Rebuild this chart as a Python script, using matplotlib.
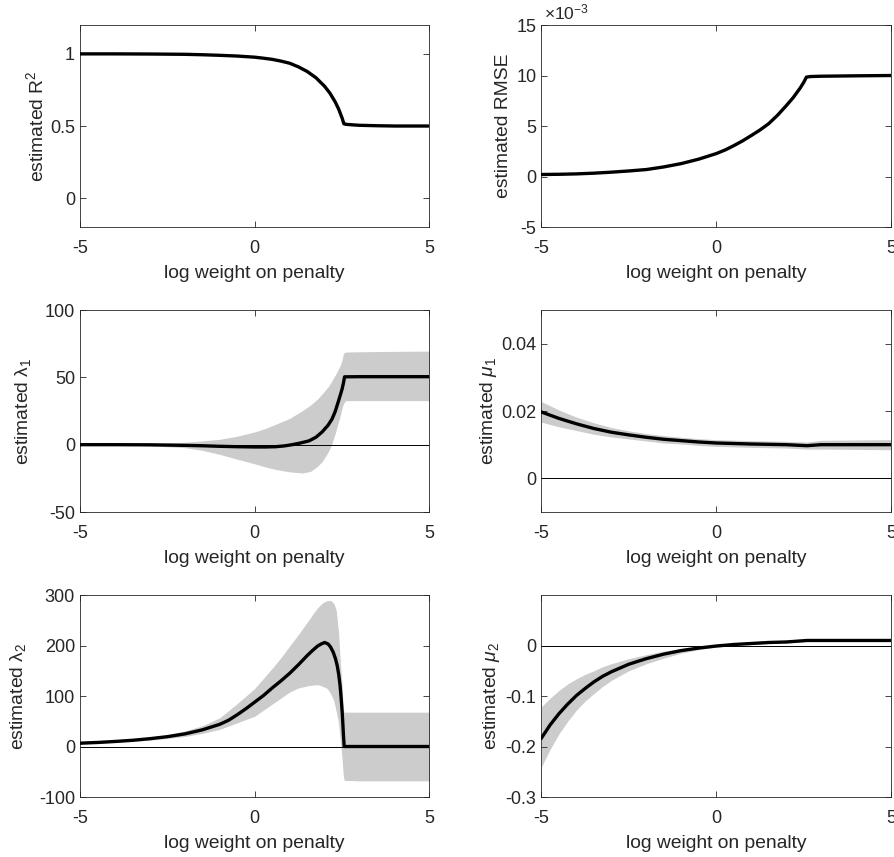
import matplotlib
matplotlib.use("Agg")
import matplotlib.pyplot as plt
from matplotlib.ticker import FuncFormatter

plt.rcParams['font.family'] = ['Liberation Sans', 'DejaVu Sans']
plt.rcParams['font.size'] = 13
plt.rcParams['axes.labelsize'] = 13.9
plt.rcParams['axes.unicode_minus'] = False
plt.rcParams['mathtext.fontset'] = 'custom'
plt.rcParams['mathtext.rm'] = 'Liberation Sans'
plt.rcParams['mathtext.it'] = 'Liberation Sans:italic'

# estimated R^2
x_r2 = [-5, -4, -3, -2, -1.5, -1, -0.5, 0, 0.25, 0.5, 0.75, 1, 1.25, 1.5, 1.75, 2.0, 2.15,
        2.3, 2.4, 2.5, 2.55, 2.6, 2.8, 3, 3.5, 4, 5]
r2 = [1.0, 1.0, 0.999, 0.997, 0.994, 0.99, 0.985, 0.977, 0.970, 0.962, 0.950, 0.935, 0.91,
      0.878, 0.835, 0.775, 0.728, 0.668, 0.618, 0.555, 0.516, 0.512, 0.508, 0.505, 0.502, 0.50, 0.50]

# estimated RMSE, in units of 1e-3
x_rmse = [-5, -4.5, -4, -3.5, -3, -2.5, -2, -1.5, -1, -0.5, 0, 0.25, 0.5, 0.75, 1, 1.25, 1.5,
          1.75, 2, 2.2, 2.4, 2.5, 2.58, 2.7, 3, 4, 5]
rmse = [0.2, 0.22, 0.26, 0.33, 0.43, 0.55, 0.69, 0.95, 1.28, 1.72, 2.27, 2.62, 3.05, 3.52,
        4.05, 4.6, 5.23, 6.05, 7.0, 7.8, 8.75, 9.3, 9.84, 9.9, 9.93, 9.97, 10.0]

# lambda_1 estimate and band
x_l1 = [-5, -4, -3, -2, -1.5, -1, -0.5, 0, 0.3, 0.6, 0.85, 1.07, 1.3, 1.55, 1.75, 1.93, 2.1,
        2.21, 2.3, 2.4, 2.45, 2.5, 2.54, 2.57, 3, 4, 5]
l1 = [0, 0, -0.1, -0.5, -0.8, -1.2, -1.5, -1.7, -1.7, -1.5, -0.9, 0.0, 1.2, 2.8, 5.5, 9.5,
      14.5, 19, 24.5, 32.7, 37, 41.4, 46, 50.4, 50.5, 50.5, 50.5]
x_l1_band = [-5, -4, -3, -2, -1.5, -1, -0.5, 0, 0.3, 0.6, 1.0, 1.36, 1.6, 1.8, 1.93, 2.1, 2.2,
             2.31, 2.45, 2.5, 2.54, 2.6, 3, 4, 5]
l1_hi = [0.1, 0.3, 0.8, 1.8, 2.8, 4.0, 6.3, 9.5, 12, 15.2, 19.5, 25.2, 29.5, 34, 37.7, 43, 47,
         52, 58.9, 63, 68, 68.8, 69.0, 69.3, 69.5]
l1_lo = [-0.1, -0.3, -0.9, -2.2, -4.2, -7.2, -10.8, -14.2, -16.5, -18.4, -20.2, -21, -19.8,
         -16, -12.5, -5.5, 0, 9, 22, 27.5, 30.5, 32.7, 32.7, 32.7, 32.7]

# mu_1 estimate and band
x_m1 = [-5, -4.5, -4, -3.5, -3, -2.5, -2, -1.5, -1, -0.5, 0, 1, 2, 2.6, 3, 4, 5]
m1 = [0.0197, 0.0178, 0.0162, 0.0148, 0.0137, 0.0129, 0.0122, 0.0116, 0.0112, 0.0108, 0.0105,
      0.0102, 0.0100, 0.0097, 0.0100, 0.0100, 0.0100]
m1_hi = [0.0228, 0.0203, 0.0182, 0.0165, 0.0151, 0.0141, 0.0133, 0.0127, 0.0122, 0.0118,
         0.0115, 0.0112, 0.0110, 0.0108, 0.0113, 0.0114, 0.0115]
m1_lo = [0.0167, 0.0153, 0.0142, 0.0131, 0.0123, 0.0117, 0.0111, 0.0105, 0.0102, 0.0098,
         0.0095, 0.0092, 0.0090, 0.0087, 0.0087, 0.0086, 0.0085]

# lambda_2 estimate and band
x_l2 = [-5, -4.5, -4, -3.5, -3, -2.5, -2, -1.5, -1, -0.75, -0.5, -0.25, 0, 0.25, 0.5, 0.75,
        1, 1.25, 1.5, 1.65, 1.8, 1.9, 2.0, 2.1, 2.17, 2.25, 2.31, 2.36, 2.4, 2.44, 2.47, 2.5,
        2.52, 2.54, 2.56, 3, 5]
l2 = [6.6, 8, 10, 12.3, 15.5, 19.5, 25, 33, 44, 52, 63, 75, 88, 101, 116, 130, 145, 162, 180,
      190, 199, 203, 206, 203, 197, 186, 174, 160, 144, 122, 98, 70, 46, 20, 0, 0, 0]
x_l2_band = [-5, -4.5, -4, -3.5, -3, -2.5, -2, -1.5, -1, -0.5, 0, 0.5, 0.75, 1, 1.25, 1.5,
             1.7, 1.83, 1.95, 2.07, 2.17, 2.26, 2.33, 2.4, 2.45, 2.5, 2.53, 2.56, 3, 5]
l2_hi = [8, 10, 12, 14.5, 18, 23.5, 31, 41, 57, 85, 115, 155, 176, 199, 222, 246, 266, 277,
         285, 289, 289, 284, 270, 225, 165, 120, 75, 68, 68, 68]
l2_lo = [5, 6.5, 8.5, 10.3, 12.5, 16, 20, 26, 34, 47, 60, 84, 96, 108, 116, 120, 122, 122,
         119, 115, 105, 91, 70, 45, 10, -25, -55, -67, -68, -68]

# mu_2 estimate and band
x_m2 = [-5, -4.75, -4.5, -4.25, -4, -3.75, -3.5, -3.25, -3, -2.5, -2, -1.5, -1, -0.5, 0, 0.5,
        1, 1.5, 2, 2.6, 3, 4, 5]
m2 = [-0.183, -0.157, -0.135, -0.116, -0.099, -0.085, -0.072, -0.061, -0.052, -0.037, -0.026,
      -0.017, -0.010, -0.005, -0.001, 0.002, 0.004, 0.006, 0.007, 0.010, 0.010, 0.010, 0.010]
m2_hi = [-0.121, -0.104, -0.089, -0.076, -0.066, -0.057, -0.050, -0.042, -0.036, -0.026,
         -0.018, -0.011, -0.006, -0.002, 0.001, 0.004, 0.006, 0.008, 0.009, 0.011, 0.011,
         0.011, 0.011]
m2_lo = [-0.240, -0.205, -0.175, -0.150, -0.128, -0.110, -0.095, -0.081, -0.069, -0.050,
         -0.036, -0.025, -0.015, -0.008, -0.003, 0.000, 0.002, 0.004, 0.005, 0.008, 0.008,
         0.008, 0.008]

fig, axes = plt.subplots(3, 2, figsize=(8.94, 8.57), dpi=100)
plt.subplots_adjust(left=0.0895, right=0.9966, top=0.9708, bottom=0.0700,
                    wspace=0.3205, hspace=0.411)

axc = '#262626'
band = '#cccccc'
plain = FuncFormatter(lambda v, pos: '%g' % round(v, 6))


def style(ax, ylim, yticks, ylabel, label_x):
    ax.set_xlim(-5, 5)
    ax.set_xticks([-5, 0, 5])
    ax.set_ylim(*ylim)
    ax.set_yticks(yticks)
    ax.xaxis.set_major_formatter(plain)
    ax.yaxis.set_major_formatter(plain)
    ax.set_xlabel('log weight on penalty', color=axc, labelpad=5.5)
    ax.set_ylabel(ylabel, color=axc, va='baseline')
    ax.yaxis.set_label_coords(label_x, 0.5)
    ax.tick_params(direction='in', top=True, right=True, length=4,
                   width=0.6, colors=axc, labelcolor=axc)
    ax.tick_params(axis='x', pad=9.4)
    ax.tick_params(axis='y', pad=3.6)
    for s in ax.spines.values():
        s.set_color(axc)
        s.set_linewidth(0.6)


def zero_line(ax):
    ax.axhline(0, color='k', lw=0.7, zorder=2)


ax = axes[0, 0]
ax.plot(x_r2, r2, color='k', lw=2.4, zorder=3)
style(ax, (-0.2, 1.2), [0, 0.5, 1], 'estimated R$^2$', -0.107)

ax = axes[0, 1]
ax.plot(x_rmse, rmse, color='k', lw=2.4, zorder=3)
style(ax, (-5, 15), [-5, 0, 5, 10, 15], 'estimated RMSE', -0.096)
ax.text(0.008, 1.012, '×10$^{-3}$', transform=ax.transAxes, ha='left', va='bottom',
        color=axc, fontsize=12.5)

ax = axes[1, 0]
ax.fill_between(x_l1_band, l1_lo, l1_hi, color=band, lw=0, zorder=1)
zero_line(ax)
ax.plot(x_l1, l1, color='k', lw=2.4, zorder=3)
style(ax, (-50, 100), [-50, 0, 50, 100], 'estimated λ$_1$', -0.148)

ax = axes[1, 1]
ax.fill_between(x_m1, m1_lo, m1_hi, color=band, lw=0, zorder=1)
zero_line(ax)
ax.plot(x_m1, m1, color='k', lw=2.4, zorder=3)
style(ax, (-0.01, 0.05), [0, 0.02, 0.04], 'estimated $\\mu_1$', -0.138)

ax = axes[2, 0]
ax.fill_between(x_l2_band, l2_lo, l2_hi, color=band, lw=0, zorder=1)
zero_line(ax)
ax.plot(x_l2, l2, color='k', lw=2.4, zorder=3)
style(ax, (-100, 300), [-100, 0, 100, 200, 300], 'estimated λ$_2$', -0.164)

ax = axes[2, 1]
ax.fill_between(x_m2, m2_lo, m2_hi, color=band, lw=0, zorder=1)
zero_line(ax)
ax.plot(x_m2, m2, color='k', lw=2.4, zorder=3)
style(ax, (-0.3, 0.1), [-0.3, -0.2, -0.1, 0], 'estimated $\\mu_2$', -0.130)

fig.savefig('out.png', dpi=100)
